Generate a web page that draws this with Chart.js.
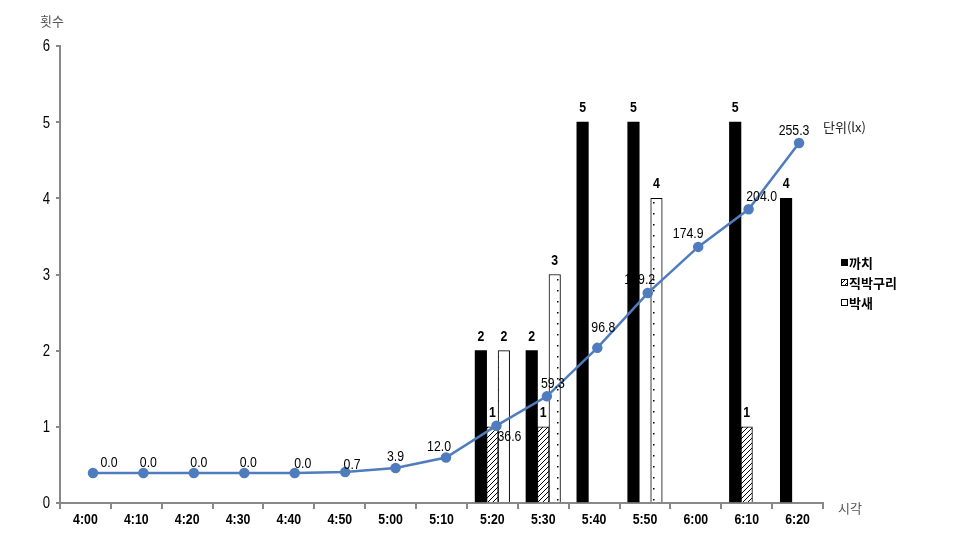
<!DOCTYPE html>
<html>
<head>
<meta charset="utf-8">
<script src="https://cdn.jsdelivr.net/npm/chart.js@4.4.0/dist/chart.umd.min.js"></script>
<style>
    html, body { margin: 0; padding: 0; background: #fff; }
    #wrap { width: 972px; height: 540px; position: relative; }
</style>
</head>
<body>
<div id="wrap"><canvas id="chart" width="972" height="540"></canvas></div>
<script>
const times = ['4:00', '4:10', '4:20', '4:30', '4:40', '4:50', '5:00', '5:10', '5:20', '5:30', '5:40', '5:50', '6:00', '6:10', '6:20']
const magpie = [null, null, null, null, null, null, null, null, 2, 2, 5, 5, null, 5, 4]
const bulbul = [null, null, null, null, null, null, null, null, 1, 1, null, null, null, 1, null]
const greatTit = [null, null, null, null, null, null, null, null, 2, 3, null, 4, null, null, null]
const lux = [0.0, 0.0, 0.0, 0.0, 0.0, 0.7, 3.9, 12.0, 36.6, 59.3, 96.8, 139.2, 174.9, 204.0, 255.3]
const yTicks = [0, 1, 2, 3, 4, 5, 6]

const FONT = "'Liberation Sans', Arial, sans-serif"
const KFONT = "'Noto Sans CJK KR', 'Liberation Sans', sans-serif"
const NARROW = 0.82
const lineColor = '#4f7cbd'
const BAR_W = 11.5
const BAR_SHIFT = 0.2261   // one bar width in category units, bars sit side by side

function makePattern(draw, w, h) {
    const c = document.createElement('canvas')
    c.width = w
    c.height = h
    const g = c.getContext('2d')
    g.fillStyle = '#fff'
    g.fillRect(0, 0, w, h)
    draw(g)
    return c.getContext('2d').createPattern(c, 'repeat')
}

const hatch = makePattern(g => {
    g.strokeStyle = '#000'
    g.lineWidth = 1
    g.beginPath()
    g.moveTo(0, 5); g.lineTo(5, 0)
    g.moveTo(-1, 1); g.lineTo(1, -1)
    g.moveTo(4, 6); g.lineTo(6, 4)
    g.stroke()
}, 5, 5)

const dots = makePattern(g => {
    g.fillStyle = '#000'
    g.fillRect(5, 4, 1.5, 1.5)
}, 12, 11)

// condensed text (Arial Narrow look) by squeezing a normal face
function narrowText(ctx, text, x, y, font) {
    ctx.save()
    ctx.font = font
    ctx.translate(x, y)
    ctx.scale(NARROW, 1)
    ctx.fillText(text, 0, 0)
    ctx.restore()
}

const toPoints = arr => arr.map((v, i) => ({ x: i, y: v }))

// a hidden linear x axis per bar series, shifted so the three bars sit side by side
const barAxis = shift => ({
    type: 'linear',
    axis: 'x',
    display: false,
    offset: false,
    grid: { offset: false },
    min: -0.5 - shift,
    max: 14.5 - shift
})

// label offsets (dx, dy) for the lux values, relative to each point
const luxLabelOffsets = [[16, -10], [5, -10], [5, -10], [4, -10], [8, -9], [7, -7], [0, -11], [-7, -11],
    [13, 11], [6, -12], [6, -20], [-8, -13], [-10, -13], [13, -12], [-5, -12]]

const labelsPlugin = {
    id: 'labels',
    afterDatasetsDraw(chart) {
        const ctx = chart.ctx
        ctx.save()
        ctx.textAlign = 'center'
        ctx.textBaseline = 'middle'
        ctx.fillStyle = '#000'
        chart.data.datasets.forEach((ds, i) => {
            const meta = chart.getDatasetMeta(i)
            meta.data.forEach((el, j) => {
                const v = ds.values[j]
                if (v === null || v === undefined) return
                if (ds.type === 'line') {
                    const [dx, dy] = luxLabelOffsets[j]
                    narrowText(ctx, v.toFixed(1), el.x + dx, el.y + dy, `15px ${FONT}`)
                } else {
                    narrowText(ctx, String(v), el.x, el.y - 14, `bold 15px ${FONT}`)
                }
            })
        })

        // x tick labels
        const xs = chart.scales.x
        times.forEach((t, i) => {
            narrowText(ctx, t, xs.getPixelForTick(i), xs.top + 17, `bold 15px ${FONT}`)
        })

        // y tick labels
        const ys = chart.scales.y
        ctx.textAlign = 'right'
        yTicks.forEach(v => {
            narrowText(ctx, String(v), 50, ys.getPixelForValue(v) + 1, `16px ${FONT}`)
        })

        // axis titles
        ctx.fillStyle = '#555'
        ctx.font = `13px ${KFONT}`
        ctx.textAlign = 'center'
        ctx.fillText('횟수', 52, 21)
        ctx.fillText('시각', 850, 508)
        ctx.textAlign = 'left'
        ctx.fillStyle = '#222'
        ctx.fillText('단위(lx)', 823, 127)

        // legend
        const items = [['까치', '#000'], ['직박구리', hatch], ['박새', '#fff']]
        items.forEach(([name, fill], k) => {
            const y = 263 + k * 20
            ctx.fillStyle = fill
            ctx.fillRect(841, y - 4, 7, 7)
            ctx.strokeStyle = '#000'
            ctx.lineWidth = 1
            ctx.strokeRect(841.5, y - 3.5, 6, 6)
            ctx.fillStyle = '#000'
            ctx.font = `bold 13px ${KFONT}`
            ctx.textAlign = 'left'
            ctx.fillText(name, 849, y)
        })
        ctx.restore()
    }
}

new Chart(document.getElementById('chart'), {
    type: 'bar',
    data: {
        labels: times,
        datasets: [
            {
                type: 'line',
                label: '조도',
                data: toPoints(lux),
                values: lux,
                xAxisID: 'x2',
                yAxisID: 'y2',
                borderColor: lineColor,
                backgroundColor: lineColor,
                borderWidth: 2.5,
                pointRadius: 4,
                pointHoverRadius: 4,
                tension: 0,
                order: 0
            },
            { label: '까치', data: toPoints(magpie), values: magpie, xAxisID: 'xa', yAxisID: 'y',
              backgroundColor: '#000', borderWidth: 0, order: 1 },
            { label: '직박구리', data: toPoints(bulbul), values: bulbul, xAxisID: 'xb', yAxisID: 'y',
              backgroundColor: hatch, borderColor: '#000', borderWidth: 1, order: 1 },
            { label: '박새', data: toPoints(greatTit), values: greatTit, xAxisID: 'xc', yAxisID: 'y',
              backgroundColor: dots, borderColor: '#000', borderWidth: 1, order: 1 }
        ]
    },
    options: {
        responsive: false,
        animation: false,
        devicePixelRatio: 1,
        layout: { padding: { top: 46, right: 149, bottom: 0, left: 0 } },
        plugins: {
            legend: { display: false },
            tooltip: { enabled: false }
        },
        datasets: {
            bar: { grouped: false, barThickness: BAR_W }
        },
        scales: {
            x: {
                type: 'category',
                offset: true,
                grid: { offset: true, drawOnChartArea: false, drawTicks: true, tickLength: 6, color: '#888', lineWidth: 2 },
                border: { color: '#888', width: 2 },
                ticks: { display: false },
                afterFit(scale) { scale.height = 37 }
            },
            xa: barAxis(-BAR_SHIFT),
            xb: barAxis(0),
            xc: barAxis(BAR_SHIFT),
            x2: {
                type: 'linear',
                display: false,
                offset: false,
                grid: { offset: false },
                min: -0.654,
                max: 14.475
            },
            y: {
                min: 0,
                max: 6,
                afterBuildTicks(scale) { scale.ticks = yTicks.map(v => ({ value: v })) },
                grid: { drawOnChartArea: false, drawTicks: true, tickLength: 4, color: '#888', lineWidth: 2 },
                border: { color: '#888', width: 2 },
                ticks: { display: false },
                afterFit(scale) { scale.width = 60 }
            },
            y2: {
                display: false,
                min: -23.2,
                max: 330.3
            }
        }
    },
    plugins: [labelsPlugin]
})
</script>
</body>
</html>
